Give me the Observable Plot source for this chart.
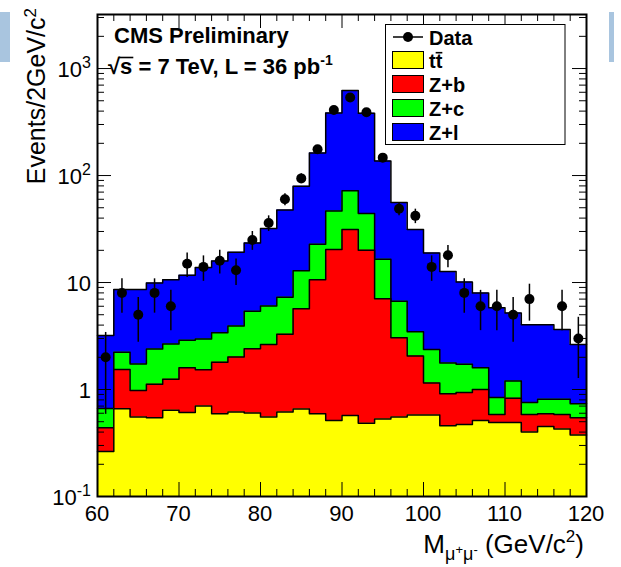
<!DOCTYPE html>
<html>
<head>
<meta charset="utf-8">
<script src="https://cdn.jsdelivr.net/npm/d3@7"></script>
<script src="https://cdn.jsdelivr.net/npm/@observablehq/plot@0.6"></script>
<style>
  html, body { margin: 0; padding: 0; background: #fff; }
  #chart { position: relative; width: 621px; height: 567px; overflow: hidden; }
  #chart svg { display: block; }
  .tab { position: absolute; background: #a9c5df; }
</style>
</head>
<body>
<div id="chart"></div>
<script>
// Dimuon invariant mass, 2 GeV/c^2 bins from 60 to 120
const binLow = [60, 62, 64, 66, 68, 70, 72, 74, 76, 78, 80, 82, 84, 86, 88,
                90, 92, 94, 96, 98, 100, 102, 104, 106, 108, 110, 112, 114, 116, 118];
const binWidth = 2;

// Expected events per bin for each simulated sample
const ttbar = [0.264, 0.661, 0.552, 0.545, 0.640, 0.610, 0.700, 0.594, 0.615, 0.602,
               0.552, 0.615, 0.656, 0.594, 0.514, 0.573, 0.485, 0.529, 0.552, 0.577,
               0.577, 0.459, 0.472, 0.514, 0.492, 0.492, 0.400, 0.452, 0.427, 0.375];
const zb    = [0.176, 0.879, 0.428, 0.575, 0.610, 0.990, 0.830, 1.206, 1.395, 1.808,
               2.088, 2.665, 5.044, 10.006, 19.886, 30.727, 19.515, 6.521, 2.498, 1.483,
               0.573, 0.455, 0.468, 0.486, 0.093, 0.338, 0.185, 0.142, 0.158, 0.170];
const zc    = [0.225, 0.690, 0.750, 1.270, 1.420, 1.280, 1.430, 1.600, 1.910, 2.970,
               3.390, 4.020, 7.200, 12.200, 26.300, 40.700, 24.100, 9.450, 3.650, 1.410,
               1.210, 0.856, 0.780, 0.600, 0.255, 0.370, 0.172, 0.216, 0.225, 0.191];
const zl    = [2.535, 6.370, 6.870, 7.510, 7.930, 8.820, 10.840, 12.500, 15.280, 18.020,
               25.870, 40.400, 66.500, 139.200, 338.300, 550.000, 338.900, 120.500, 49.300, 27.830,
               16.540, 10.930, 8.380, 6.400, 4.960, 4.000, 3.283, 3.230, 2.820, 1.904];

// Observed events per bin
const dataCounts = [2, 8, 5, 8, 6, 15, 14, 16, 13, 25, 36, 60, 94, 176, 410,
                    537, 391, 147, 49, 42, 14, 18, 8, 6, 6, 5, 7, 0, 6, 3];

// Axis tick values and labels
const xMajor = [60, 70, 80, 90, 100, 110, 120];
const yDecades = [0.1, 1, 10, 100, 1000];
const yDecadeLabels = [["10", "-1"], ["1", ""], ["10", ""], ["10", "2"], ["10", "3"]];

const font = "'Liberation Sans', Arial, Helvetica, sans-serif";
const W = 621, H = 567;
const mL = 97, mR = 35, mT = 14, mB = 71;
const innerW = W - mL - mR, innerH = H - mT - mB;
const yMin = 0.1, yMax = 3200;

// Cumulative stack tops
const sumOf = (arrs) => binLow.map((_, i) => d3.sum(arrs, a => a[i]));
const layers = [
  {name: "Z+l", color: "#0000ff", tops: sumOf([ttbar, zb, zc, zl])},
  {name: "Z+c", color: "#00ff00", tops: sumOf([ttbar, zb, zc])},
  {name: "Z+b", color: "#ff0000", tops: sumOf([ttbar, zb])},
  {name: "tt",  color: "#ffff00", tops: sumOf([ttbar])}
];
const stepPoints = (tops) => {
  const pts = binLow.map((x, i) => ({x, y: tops[i]}));
  pts.push({x: binLow[binLow.length - 1] + binWidth, y: tops[tops.length - 1]});
  return pts;
};

const dataRows = binLow
  .map((x, i) => ({xc: x + binWidth / 2, n: dataCounts[i]}))
  .filter(d => d.n > 0)
  .map(d => ({...d, lo: d.n - Math.sqrt(d.n), hi: d.n + Math.sqrt(d.n)}));

// Tick positions (ROOT style: inside the frame, on all four sides)
const xMinor = d3.range(60, 121, 2).filter(v => v % 10 !== 0);
const yMinor = [];
for (const d of yDecades) for (let k = 2; k <= 9; k++) { const v = k * d; if (v < yMax) yMinor.push(v); }

const marks = [];
for (const L of layers) {
  const pts = stepPoints(L.tops);
  marks.push(Plot.area(pts, {x1: "x", y1: yMin, y2: "y", curve: "step-after", fill: L.color}));
  marks.push(Plot.line(pts, {x: "x", y: "y", curve: "step-after", stroke: "black", strokeWidth: 1.5}));
}
marks.push(
  Plot.ruleX(xMajor, {x: d => d, insetTop: innerH - 14, stroke: "black", strokeWidth: 1}),
  Plot.ruleX(xMinor, {x: d => d, insetTop: innerH - 7, stroke: "black", strokeWidth: 1}),
  Plot.ruleX(xMajor, {x: d => d, insetBottom: innerH - 14, stroke: "black", strokeWidth: 1}),
  Plot.ruleX(xMinor, {x: d => d, insetBottom: innerH - 7, stroke: "black", strokeWidth: 1}),
  Plot.ruleY(yDecades, {y: d => d, insetRight: innerW - 14, stroke: "black", strokeWidth: 1}),
  Plot.ruleY(yMinor, {y: d => d, insetRight: innerW - 7, stroke: "black", strokeWidth: 1}),
  Plot.ruleY(yDecades, {y: d => d, insetLeft: innerW - 14, stroke: "black", strokeWidth: 1}),
  Plot.ruleY(yMinor, {y: d => d, insetLeft: innerW - 7, stroke: "black", strokeWidth: 1}),
  Plot.ruleX(dataRows, {x: "xc", y1: "lo", y2: "hi", stroke: "black", strokeWidth: 1.5}),
  Plot.dot(dataRows, {x: "xc", y: "n", r: 5, fill: "black"}),
  Plot.frame({stroke: "black", strokeWidth: 2})
);

const svgNode = Plot.plot({
  width: W, height: H,
  marginLeft: mL, marginRight: mR, marginTop: mT, marginBottom: mB,
  style: {fontFamily: font, background: "#fff", overflow: "visible"},
  x: {domain: [60, 120], axis: null},
  y: {type: "log", domain: [yMin, yMax], axis: null},
  marks
});

const chart = document.getElementById("chart");
chart.appendChild(svgNode);
for (const [l, t, w, h] of [[0, 12, 10, 50], [609, 12, 5, 50]]) {
  const tab = document.createElement("div");
  tab.className = "tab";
  Object.assign(tab.style, {left: l + "px", top: t + "px", width: w + "px", height: h + "px"});
  chart.appendChild(tab);
}

const sx = svgNode.scale("x"), sy = svgNode.scale("y");
const svg = d3.select(svgNode);
const g = svg.append("g").attr("font-family", font).attr("fill", "black").attr("text-anchor", "start");

// x tick labels
for (const v of xMajor) {
  g.append("text").attr("x", sx.apply(v)).attr("y", H - mB + 25)
    .attr("text-anchor", "middle").attr("font-size", 22).text(v);
}
// y tick labels with exponents
yDecades.forEach((v, i) => {
  const [base, exp] = yDecadeLabels[i];
  const t = g.append("text").attr("x", mL - 6).attr("y", sy.apply(v) + 9)
    .attr("text-anchor", "end").attr("font-size", 22);
  t.append("tspan").text(base);
  if (exp) t.append("tspan").attr("dy", -9).attr("font-size", 16).text(exp);
});

// axis titles
const yt = g.append("text").attr("transform", `translate(45,8) rotate(-90)`)
  .attr("text-anchor", "end").attr("font-size", 25);
yt.append("tspan").text("Events/2GeV/c");
yt.append("tspan").attr("dy", -9).attr("font-size", 17).text("2");

const xt = g.append("text").attr("x", W - mR - 2).attr("y", 553)
  .attr("text-anchor", "end").attr("font-size", 26);
xt.append("tspan").text("M");
xt.append("tspan").attr("dy", 7).attr("font-size", 18).text("μ");
xt.append("tspan").attr("dy", -6).attr("font-size", 13).text("+");
xt.append("tspan").attr("dy", 6).attr("font-size", 18).text("μ");
xt.append("tspan").attr("dy", -6).attr("font-size", 13).text("-");
xt.append("tspan").attr("dy", -1).attr("font-size", 26).text(" (GeV/c");
xt.append("tspan").attr("dy", -11).attr("font-size", 17).text("2");
xt.append("tspan").attr("dy", 11).attr("font-size", 26).text(")");

// experiment labels
g.append("text").attr("x", 114).attr("y", 43).attr("font-size", 22)
  .attr("font-weight", "bold").text("CMS Preliminary");
const en = g.append("text").attr("x", 108).attr("y", 74).attr("font-size", 22).attr("font-weight", "bold");
en.append("tspan").text("√s = 7 TeV, L = 36 pb");
en.append("tspan").attr("dy", -9).attr("font-size", 14).text("-1");
{
  const node = en.node();
  const x0 = node.getStartPositionOfChar(1).x;
  const w = node.getSubStringLength(1, 1);
  g.append("line").attr("x1", x0 - 1).attr("x2", x0 + w + 1).attr("y1", 57.5).attr("y2", 57.5)
    .attr("stroke", "black").attr("stroke-width", 1.6);
}

// legend
const lg = g.append("g");
lg.append("rect").attr("x", 385.5).attr("y", 24.5).attr("width", 179.5).attr("height", 120)
  .attr("fill", "#fff").attr("stroke", "black").attr("stroke-width", 1);
lg.append("line").attr("x1", 393).attr("x2", 423).attr("y1", 37).attr("y2", 37)
  .attr("stroke", "black").attr("stroke-width", 1.5);
lg.append("circle").attr("cx", 408).attr("cy", 37).attr("r", 5).attr("fill", "black");
lg.append("text").attr("x", 429).attr("y", 45).attr("font-size", 20).attr("font-weight", "bold").text("Data");
const legendOrder = [layers[3], layers[2], layers[1], layers[0]];
legendOrder.forEach((L, i) => {
  const top = 51.5 + i * 24;
  lg.append("rect").attr("x", 392.5).attr("y", top).attr("width", 31).attr("height", 17)
    .attr("fill", L.color).attr("stroke", "black").attr("stroke-width", 1);
  const t = lg.append("text").attr("x", 429).attr("y", top + 16.5).attr("font-size", 20)
    .attr("font-weight", "bold").text(L.name);
  if (L.name === "tt") {
    const node = t.node();
    const x0 = node.getStartPositionOfChar(1).x;
    const w = node.getSubStringLength(1, 1);
    lg.append("line").attr("x1", x0).attr("x2", x0 + w).attr("y1", top + 1.2).attr("y2", top + 1.2)
      .attr("stroke", "black").attr("stroke-width", 1.6);
  }
});
</script>
</body>
</html>
